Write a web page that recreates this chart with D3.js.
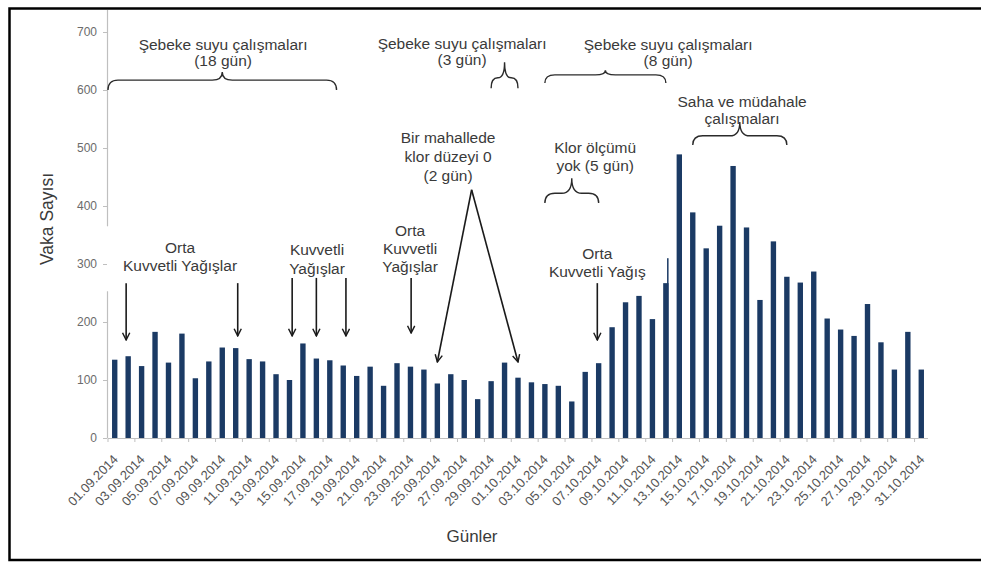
<!DOCTYPE html>
<html>
<head>
<meta charset="utf-8">
<script src="https://cdnjs.cloudflare.com/ajax/libs/d3/7.8.5/d3.min.js"></script>
<style>
body { margin: 0; background: #fff; }
text { font-family: "Liberation Sans", Arial, sans-serif; }
</style>
</head>
<body>
<svg id="chart" width="981" height="563"></svg>
<script>
// daily case counts, 01.09.2014 - 31.10.2014
var dates = ["01.09.2014","02.09.2014","03.09.2014","04.09.2014","05.09.2014","06.09.2014","07.09.2014","08.09.2014","09.09.2014","10.09.2014",
             "11.09.2014","12.09.2014","13.09.2014","14.09.2014","15.09.2014","16.09.2014","17.09.2014","18.09.2014","19.09.2014","20.09.2014",
             "21.09.2014","22.09.2014","23.09.2014","24.09.2014","25.09.2014","26.09.2014","27.09.2014","28.09.2014","29.09.2014","30.09.2014",
             "01.10.2014","02.10.2014","03.10.2014","04.10.2014","05.10.2014","06.10.2014","07.10.2014","08.10.2014","09.10.2014","10.10.2014",
             "11.10.2014","12.10.2014","13.10.2014","14.10.2014","15.10.2014","16.10.2014","17.10.2014","18.10.2014","19.10.2014","20.10.2014",
             "21.10.2014","22.10.2014","23.10.2014","24.10.2014","25.10.2014","26.10.2014","27.10.2014","28.10.2014","29.10.2014","30.10.2014",
             "31.10.2014"];
var cases = [135,141,124,183,130,180,103,132,156,155,
             136,132,110,100,163,137,134,125,107,123,
             90,129,123,118,94,110,100,67,98,130,
             104,96,93,90,63,114,129,191,234,245,
             205,267,489,389,327,366,469,363,238,339,
             278,268,287,206,187,176,231,165,118,183,
             118];
// thin spike drawn on the right edge of the 12.10 bar in the original
var spike = [["12.10.2014", 310]];
var xLabels = dates.filter((d,i) => i % 2 == 0);
var yTicks = [0,100,200,300,400,500,600,700];

// annotations: [date, position in band, value]
var notes = [
    {lines:["Şebeke suyu çalışmaları","(18 gün)"], at:["09.09.2014",0.56,669], lh:16},
    {lines:["Şebeke suyu çalışmaları","(3 gün)"], at:["27.09.2014",0.34,670], lh:16},
    {lines:["Şebeke suyu çalışmaları","(8 gün)"], at:["12.10.2014",0.67,669], lh:16},
    {lines:["Bir mahallede","klor düzeyi 0","(2 gün)"], at:["26.09.2014",0.3,509], lh:19},
    {lines:["Klor ölçümü","yok (5 gün)"], at:["07.10.2014",0.24,491], lh:18},
    {lines:["Saha ve müdahale","çalışmaları"], at:["18.10.2014",0.17,571], lh:17},
    {lines:["Orta","Kuvvetli Yağışlar"], at:["06.09.2014",0.36,319], lh:18},
    {lines:["Kuvvetli","Yağışlar"], at:["16.09.2014",0.55,315], lh:19},
    {lines:["Orta","Kuvvetli","Yağışlar"], at:["23.09.2014",0.47,348], lh:18},
    {lines:["Orta","Kuvvetli Yağış"], at:["07.10.2014",0.4,309], lh:18}
];
var braces = [
    {from:["01.09.2014",0], to:["18.09.2014",0], v:[600,617,631]},
    {from:["29.09.2014",0.5], to:["01.10.2014",0.5], v:[603,621,648]},
    {from:["03.10.2014",0.5], to:["12.10.2014",0.5], v:[612,626,634]},
    {from:["03.10.2014",0.5], to:["07.10.2014",0.5], v:[405,422,448]},
    {from:["14.10.2014",0.5], to:["21.10.2014",0.5], v:[505,521,545]}
];
var arrows = [
    {from:["02.09.2014",0.35,267], to:["02.09.2014",0.35,169]},
    {from:["10.09.2014",0.65,267], to:["10.09.2014",0.65,176]},
    {from:["14.09.2014",0.7,276], to:["14.09.2014",0.7,176]},
    {from:["16.09.2014",0.5,276], to:["16.09.2014",0.5,176]},
    {from:["18.09.2014",0.7,276], to:["18.09.2014",0.7,176]},
    {from:["23.09.2014",0.55,276], to:["23.09.2014",0.55,181]},
    {from:["28.09.2014",0.05,428], to:["25.09.2014",0.5,131]},
    {from:["28.09.2014",0.05,428], to:["01.10.2014",0.5,131]},
    {from:["07.10.2014",0.4,267], to:["07.10.2014",0.4,169]}
];

function makeChart(){
    var svg = d3.select("#chart");
    var padL = 108, padR = 928, padT = 32, padB = 438;
    var textCol = "#3a3a3a";

    var scX = d3.scaleBand().domain(dates).range([padL, padR]).paddingInner(0.6).paddingOuter(0.3);
    var scY = d3.scaleLinear().domain([0,700]).range([padB, padT]);
    var step = (padR - padL) / dates.length;
    var px = a => padL + dates.indexOf(a[0]) * step + a[1] * step;

    // frame
    svg.append("rect")
        .attr("x", 9.5).attr("y", 8.5).attr("width", 990).attr("height", 551.5)
        .attr("fill", "none").attr("stroke", "#000").attr("stroke-width", 2.5);

    // bars
    svg.append("g").selectAll("rect")
        .data(cases).enter().append("rect")
        .attr("fill", "#1b3a64")
        .attr("x", (d,i) => scX(dates[i]))
        .attr("y", d => scY(d))
        .attr("width", scX.bandwidth())
        .attr("height", d => scY(0) - scY(d));

    svg.append("g").selectAll("rect")
        .data(spike).enter().append("rect")
        .attr("fill", "#1b3a64")
        .attr("x", d => scX(d[0]) + scX.bandwidth() - 1.5)
        .attr("y", d => scY(d[1]))
        .attr("width", 1.5)
        .attr("height", d => scY(0) - scY(d[1]));

    // y axis
    var yAxis = svg.append("g")
        .attr("transform", "translate(" + (padL - 1) + ",0)")
        .call(d3.axisLeft(scY).tickValues(yTicks).tickSize(4).tickPadding(6));
    yAxis.select(".domain").remove();
    yAxis.selectAll("line").attr("stroke", "#bfbfbf");
    yAxis.selectAll("text").attr("fill", "#6b6b6b").style("font-size", "12px")
        .style("font-family", "Liberation Sans, Arial, sans-serif");
    // axis line has a gap next to the 300-400 band in the original
    [[0,253],[365,760]].forEach(function(s){
        svg.append("line")
            .attr("x1", padL - 0.5).attr("x2", padL - 0.5)
            .attr("y1", scY(s[0])).attr("y2", Math.max(10, scY(s[1])))
            .attr("stroke", "#bfbfbf").attr("stroke-width", 1.2);
    });

    // x axis
    svg.append("line")
        .attr("x1", padL).attr("x2", padR)
        .attr("y1", padB + 0.5).attr("y2", padB + 0.5)
        .attr("stroke", "#bfbfbf").attr("stroke-width", 1.2);
    svg.append("g").selectAll("line")
        .data(xLabels).enter().append("line")
        .attr("x1", d => px([d,0])).attr("x2", d => px([d,0]))
        .attr("y1", padB).attr("y2", padB + 4)
        .attr("stroke", "#bfbfbf");
    svg.append("g").selectAll("text")
        .data(xLabels).enter().append("text")
        .attr("transform", d => "translate(" + (scX(d) + scX.bandwidth()/2 + 4) + "," + (padB + 22) + ") rotate(-46)")
        .attr("text-anchor", "end")
        .attr("fill", "#555")
        .style("font-size", "13px")
        .text(d => d);

    // axis titles
    svg.append("text")
        .attr("x", 472).attr("y", 542)
        .attr("text-anchor", "middle")
        .attr("fill", textCol)
        .style("font-size", "17px")
        .text("Günler");
    svg.append("text")
        .attr("transform", "translate(53,219) rotate(-90)")
        .attr("text-anchor", "middle")
        .attr("fill", textCol)
        .style("font-size", "17.5px")
        .text("Vaka Sayısı");

    // braces
    var bracePath = function(b){
        var x1 = px(b.from), x2 = px(b.to), xm = (x1 + x2) / 2;
        var yE = scY(b.v[0]), yM = scY(b.v[1]), yT = scY(b.v[2]);
        var r = Math.min(10, (x2 - x1) / 4);
        return "M" + x1 + "," + yE + " Q" + x1 + "," + yM + " " + (x1 + r) + "," + yM +
               " L" + (xm - r) + "," + yM + " Q" + xm + "," + yM + " " + xm + "," + yT +
               " Q" + xm + "," + yM + " " + (xm + r) + "," + yM +
               " L" + (x2 - r) + "," + yM + " Q" + x2 + "," + yM + " " + x2 + "," + yE;
    };
    svg.append("g").selectAll("path")
        .data(braces).enter().append("path")
        .attr("d", bracePath)
        .attr("fill", "none").attr("stroke", "#2b2b2b").attr("stroke-width", 1.4);

    // arrows
    svg.append("defs").append("marker")
        .attr("id", "head")
        .attr("viewBox", "0 0 10 10")
        .attr("refX", 9).attr("refY", 5)
        .attr("markerWidth", 9).attr("markerHeight", 9)
        .attr("markerUnits", "userSpaceOnUse")
        .attr("orient", "auto")
        .append("path")
        .attr("d", "M1,1 L9,5 L1,9")
        .attr("fill", "none").attr("stroke", "#1a1a1a").attr("stroke-width", 1.6);

    svg.append("g").selectAll("line")
        .data(arrows).enter().append("line")
        .attr("x1", d => px(d.from)).attr("y1", d => scY(d.from[2]))
        .attr("x2", d => px(d.to)).attr("y2", d => scY(d.to[2]))
        .attr("stroke", "#1a1a1a").attr("stroke-width", 1.6)
        .attr("marker-end", "url(#head)");

    // annotation texts
    var noteG = svg.append("g").selectAll("text")
        .data(notes).enter().append("text")
        .attr("text-anchor", "middle")
        .attr("fill", textCol)
        .style("font-size", "15.5px");
    noteG.selectAll("tspan")
        .data(d => d.lines.map((t,i) => ({t:t, x:px(d.at), y:scY(d.at[2]) + i * d.lh})))
        .enter().append("tspan")
        .attr("x", d => d.x).attr("y", d => d.y)
        .text(d => d.t);
}

makeChart();
</script>
</body>
</html>
